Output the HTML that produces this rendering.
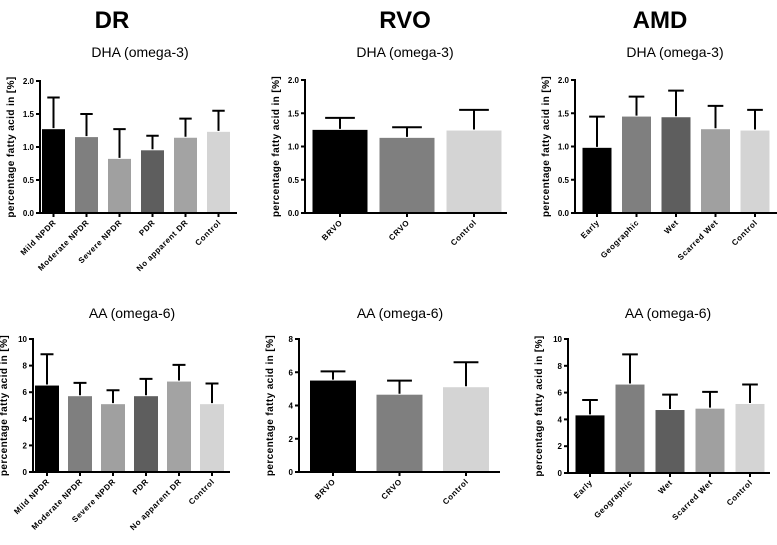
<!DOCTYPE html>
<html><head><meta charset="utf-8"><style>
body{margin:0;background:#fff;width:777px;height:540px;overflow:hidden}
svg{font-family:"Liberation Sans",Arial,sans-serif}
</style></head><body>
<svg id="c" width="777" height="540" viewBox="0 0 777 540">
<text x="112" y="28" font-size="24" font-weight="bold" text-anchor="middle">DR</text>
<text x="405" y="28" font-size="24" font-weight="bold" text-anchor="middle">RVO</text>
<text x="660" y="28" font-size="24" font-weight="bold" text-anchor="middle">AMD</text>
</svg>
<script>
const drCats=["Mild NPDR","Moderate NPDR","Severe NPDR","PDR","No apparent DR","Control"];
const rvoCats=["BRVO","CRVO","Control"];
const amdCats=["Early","Geographic","Wet","Scarred Wet","Control"];
const drDha=[1.27,1.15,0.82,0.95,1.14,1.23];
const drDhaErr=[0.48,0.35,0.45,0.22,0.29,0.32];
const drAa=[6.5,5.7,5.1,5.7,6.8,5.1];
const drAaErr=[2.35,1.0,1.05,1.3,1.25,1.55];
const rvoDha=[1.25,1.13,1.24];
const rvoDhaErr=[0.18,0.16,0.31];
const rvoAa=[5.5,4.65,5.1];
const rvoAaErr=[0.55,0.85,1.5];
const amdDha=[0.98,1.45,1.44,1.26,1.24];
const amdDhaErr=[0.47,0.3,0.4,0.35,0.31];
const amdAa=[4.3,6.6,4.7,4.8,5.15];
const amdAaErr=[1.15,2.25,1.15,1.25,1.45];
const dhaTicks=["0.0","0.5","1.0","1.5","2.0"];
const aa10Ticks=["0","2","4","6","8","10"];
const aa8Ticks=["0","2","4","6","8"];

const NS="http://www.w3.org/2000/svg";
const svg=document.getElementById('c');
function mk(tag,attrs,parent){const e=document.createElementNS(NS,tag);for(const k in attrs)e.setAttribute(k,attrs[k]);(parent||svg).appendChild(e);return e;}

const panels=[
 {id:'dr-dha',title:'DHA (omega-3)',cats:drCats,vals:drDha,err:drDhaErr,ticks:dhaTicks,max:2,ax:40,top:81,zero:213,end:237,c0:53.5,pitch:33,bw:23,colors:['#000','#7f7f7f','#a0a0a0','#5e5e5e','#a3a3a3','#d4d4d4'],ty:57,tx:140},
 {id:'dr-aa',title:'AA (omega-6)',cats:drCats,vals:drAa,err:drAaErr,ticks:aa10Ticks,max:10,ax:33,top:339,zero:472,end:230,c0:47,pitch:33,bw:24,colors:['#000','#7f7f7f','#a0a0a0','#5e5e5e','#a3a3a3','#d4d4d4'],ty:318,tx:132},
 {id:'rvo-dha',title:'DHA (omega-3)',cats:rvoCats,vals:rvoDha,err:rvoDhaErr,ticks:dhaTicks,max:2,ax:305,top:80,zero:213,end:507,c0:340,pitch:67,bw:55,colors:['#000','#7f7f7f','#d4d4d4'],ty:57,tx:405},
 {id:'rvo-aa',title:'AA (omega-6)',cats:rvoCats,vals:rvoAa,err:rvoAaErr,ticks:aa8Ticks,max:8,ax:299,top:339,zero:472,end:500,c0:333,pitch:66.5,bw:46,colors:['#000','#7f7f7f','#d4d4d4'],ty:318,tx:400},
 {id:'amd-dha',title:'DHA (omega-3)',cats:amdCats,vals:amdDha,err:amdDhaErr,ticks:dhaTicks,max:2,ax:575,top:80,zero:213,end:777,c0:597,pitch:39.5,bw:29,colors:['#000','#7f7f7f','#5e5e5e','#a0a0a0','#d4d4d4'],ty:57,tx:675},
 {id:'amd-aa',title:'AA (omega-6)',cats:amdCats,vals:amdAa,err:amdAaErr,ticks:aa10Ticks,max:10,ax:568,top:339,zero:473,end:770,c0:590,pitch:40,bw:29,colors:['#000','#7f7f7f','#5e5e5e','#a0a0a0','#d4d4d4'],ty:318,tx:668}
];

panels.forEach(p=>{
 const g=mk('g',{});
 
 
 const y=v=>p.zero-(v/p.max)*(p.zero-p.top);
 const x=i=>p.c0+i*p.pitch;
 const t=mk('text',{x:p.tx,y:p.ty,'font-size':14,'text-anchor':'middle'},g);t.textContent=p.title;
 
 
 const yl=mk('text',{transform:`translate(${p.ax-26},${(p.top+p.zero)/2}) rotate(-90)`,'font-size':10,'font-weight':'bold','text-anchor':'middle','letter-spacing':'0.4'},g);
 yl.textContent='percentage fatty acid in [%]';
 
 
 p.vals.forEach((v,i)=>{
  const b=mk('rect',{x:x(i)-p.bw/2,y:y(v),width:p.bw,height:p.zero-y(v),fill:p.colors[i]},g);
  
  
  const top=y(v+p.err[i]);
  const e=mk('path',{d:`M${x(i)} ${y(v)-1}V${top}M${x(i)-p.bw*0.27} ${top}H${x(i)+p.bw*0.27}`,stroke:'#000','stroke-width':2,fill:'none'},g);
  
  
  mk('line',{x1:x(i),x2:x(i),y1:p.zero,y2:p.zero+4,stroke:'#000','stroke-width':2},g);
  const lx=x(i)+3,ly=p.zero+10;
  const l=mk('text',{transform:`translate(${lx},${ly}) rotate(-45)`,'font-size':8,'font-weight':'bold','text-anchor':'end','letter-spacing':'0.6'},g);
  l.textContent=p.cats[i];
  
  
 });
 p.ticks.forEach((tk,i)=>{
  const v=i*p.max/(p.ticks.length-1);
  mk('line',{x1:p.ax-4,x2:p.ax,y1:y(v),y2:y(v),stroke:'#000','stroke-width':2},g);
  const tt=mk('text',{x:p.ax-6,y:y(v)+3,'font-size':8,'font-weight':'bold','text-anchor':'end'},g);
  tt.textContent=tk;
  
  
 });
 const ax=mk('path',{d:`M${p.ax} ${p.top-1}V${p.zero}H${p.end}`,stroke:'#000','stroke-width':2,fill:'none'},g);
 
 
});
</script>
</body></html>
